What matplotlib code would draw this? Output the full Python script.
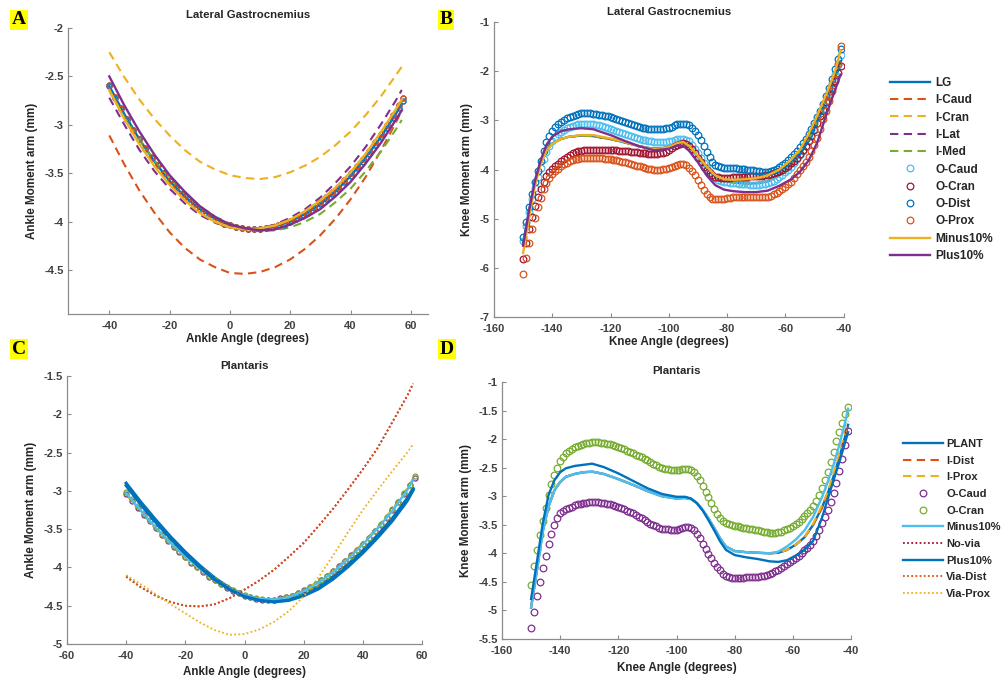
import numpy as np
import matplotlib
matplotlib.use('Agg')
import matplotlib.pyplot as plt
from matplotlib.ticker import FuncFormatter

plt.rcParams['font.family'] = ['Liberation Sans', 'DejaVu Sans']
plt.rcParams['font.weight'] = 'bold'
plt.rcParams['axes.unicode_minus'] = False

# MATLAB default colour order
C1, C2, C3, C4, C5, C6, C7 = '#0072BD', '#D95319', '#EDB120', '#7E2F8E', '#77AC30', '#4DBEEE', '#A2142F'

# ---------------- Panel A : Lateral Gastrocnemius, ankle ----------------
A_x = [-40, -35, -30, -25, -20, -15, -10, -5, 0, 5, 10, 15, 20, 25, 30, 35, 40, 45, 50, 55, 57]
A_LG    = [-2.60, -2.89, -3.15, -3.38, -3.58, -3.74, -3.87, -3.97, -4.04, -4.07, -4.08, -4.05, -4.00, -3.92, -3.82, -3.69, -3.53, -3.34, -3.13, -2.89, -2.78]
A_ICaud = [-3.11, -3.41, -3.68, -3.91, -4.11, -4.27, -4.39, -4.47, -4.53, -4.54, -4.52, -4.47, -4.39, -4.28, -4.14, -3.97, -3.77, -3.54, -3.27, -2.98, -2.85]
A_ICran = [-2.25, -2.51, -2.74, -2.94, -3.11, -3.26, -3.38, -3.46, -3.52, -3.55, -3.56, -3.54, -3.49, -3.42, -3.33, -3.21, -3.07, -2.90, -2.71, -2.49, -2.40]
A_ILat  = [-2.72, -3.00, -3.26, -3.48, -3.66, -3.81, -3.93, -4.01, -4.06, -4.08, -4.07, -4.03, -3.96, -3.87, -3.75, -3.60, -3.43, -3.23, -3.00, -2.75, -2.64]
A_IMed  = [-2.65, -2.92, -3.15, -3.37, -3.55, -3.71, -3.84, -3.95, -4.02, -4.07, -4.10, -4.09, -4.06, -4.00, -3.92, -3.80, -3.66, -3.48, -3.28, -3.05, -2.95]
A_Minus = [-2.64, -2.94, -3.20, -3.43, -3.62, -3.78, -3.91, -4.00, -4.06, -4.08, -4.07, -4.04, -3.98, -3.89, -3.78, -3.65, -3.49, -3.30, -3.08, -2.84, -2.74]
A_Plus  = [-2.50, -2.80, -3.07, -3.31, -3.52, -3.69, -3.84, -3.95, -4.03, -4.07, -4.09, -4.08, -4.03, -3.96, -3.87, -3.74, -3.59, -3.40, -3.19, -2.95, -2.85]
A_xo = np.append(np.arange(-40, 57, 2), 57.5)
A_O1 = [-2.60, -2.72, -2.84, -2.95, -3.05, -3.15, -3.25, -3.34, -3.42, -3.50,
        -3.58, -3.65, -3.71, -3.77, -3.82, -3.87, -3.92, -3.95, -3.99, -4.02,
        -4.04, -4.06, -4.07, -4.08, -4.08, -4.08, -4.07, -4.06, -4.05, -4.03,
        -4.00, -3.97, -3.94, -3.91, -3.86, -3.82, -3.77, -3.71, -3.66, -3.59,
        -3.53, -3.45, -3.38, -3.30, -3.21, -3.13, -3.03, -2.93, -2.83, -2.75]
A_O2 = [-2.59, -2.71, -2.83, -2.94, -3.05, -3.15, -3.24, -3.33, -3.42, -3.50,
        -3.57, -3.64, -3.71, -3.77, -3.82, -3.87, -3.91, -3.95, -3.99, -4.02,
        -4.04, -4.06, -4.07, -4.08, -4.08, -4.08, -4.07, -4.06, -4.04, -4.02,
        -3.99, -3.96, -3.93, -3.89, -3.85, -3.80, -3.75, -3.69, -3.64, -3.57,
        -3.50, -3.43, -3.35, -3.27, -3.18, -3.09, -3.00, -2.90, -2.80, -2.72]

# ---------------- Panel B : Lateral Gastrocnemius, knee ----------------
B_x = [-150, -148, -146, -144, -142, -140, -137, -134, -130, -126, -120, -115, -110, -105, -100, -97, -95,
       -93, -90, -87, -84, -81, -78, -74, -70, -66, -62, -58, -55, -52, -49, -46, -43, -41]
B_LG = [-5.50, -4.85, -4.25, -3.85, -3.60, -3.47, -3.38, -3.33, -3.31, -3.32,
        -3.38, -3.45, -3.53, -3.58, -3.55, -3.47, -3.45, -3.53, -3.74, -3.97,
        -4.15, -4.23, -4.26, -4.28, -4.28, -4.24, -4.12, -3.92, -3.70, -3.40,
        -3.02, -2.60, -2.15, -1.80]
B_Minus = [-5.70, -5.00, -4.35, -3.90, -3.62, -3.48, -3.38, -3.33, -3.30, -3.30,
           -3.37, -3.44, -3.53, -3.59, -3.55, -3.46, -3.44, -3.52, -3.72, -3.94,
           -4.12, -4.20, -4.21, -4.20, -4.18, -4.12, -4.00, -3.80, -3.60, -3.28,
           -2.90, -2.48, -2.02, -1.58]
B_Plus = [-5.55, -4.85, -4.25, -3.82, -3.50, -3.33, -3.22, -3.18, -3.16, -3.18,
          -3.30, -3.42, -3.53, -3.61, -3.58, -3.51, -3.52, -3.62, -3.85, -4.12,
          -4.32, -4.41, -4.44, -4.46, -4.46, -4.43, -4.33, -4.20, -4.05, -3.82,
          -3.45, -2.90, -2.40, -2.07]
B_ICaud = B_LG
B_ICran = B_LG
B_ILat = B_LG
B_IMed = B_LG
B_xo = np.arange(-150, -40)
B_ODist = [-5.37, -5.07, -4.77, -4.50, -4.25, -4.04, -3.82, -3.62, -3.45, -3.32,
           -3.22, -3.14, -3.08, -3.03, -2.99, -2.96, -2.93, -2.91, -2.89, -2.87,
           -2.86, -2.86, -2.86, -2.86, -2.87, -2.88, -2.89, -2.90, -2.91, -2.92,
           -2.93, -2.95, -2.97, -2.99, -3.01, -3.03, -3.05, -3.07, -3.09, -3.11,
           -3.13, -3.15, -3.16, -3.17, -3.18, -3.18, -3.18, -3.18, -3.17, -3.16,
           -3.15, -3.13, -3.10, -3.08, -3.07, -3.07, -3.08, -3.10, -3.15, -3.22,
           -3.30, -3.40, -3.52, -3.65, -3.75, -3.84, -3.90, -3.93, -3.95, -3.96,
           -3.96, -3.96, -3.97, -3.97, -3.98, -3.98, -3.99, -4.00, -4.01, -4.02,
           -4.03, -4.04, -4.05, -4.05, -4.05, -4.04, -4.02, -3.99, -3.95, -3.91,
           -3.86, -3.81, -3.75, -3.69, -3.62, -3.54, -3.46, -3.37, -3.27, -3.17,
           -3.06, -2.94, -2.81, -2.67, -2.51, -2.34, -2.15, -1.95, -1.75, -1.55]
B_OCaud = [-5.45, -5.15, -4.86, -4.60, -4.37, -4.16, -3.96, -3.79, -3.64, -3.52,
           -3.42, -3.34, -3.28, -3.23, -3.19, -3.16, -3.13, -3.11, -3.09, -3.08,
           -3.07, -3.07, -3.07, -3.07, -3.08, -3.09, -3.10, -3.12, -3.13, -3.15,
           -3.17, -3.19, -3.21, -3.23, -3.25, -3.27, -3.29, -3.31, -3.33, -3.35,
           -3.37, -3.39, -3.41, -3.42, -3.43, -3.44, -3.45, -3.45, -3.45, -3.44,
           -3.43, -3.42, -3.40, -3.38, -3.37, -3.37, -3.39, -3.43, -3.50, -3.58,
           -3.67, -3.77, -3.87, -3.97, -4.05, -4.12, -4.17, -4.21, -4.23, -4.25,
           -4.26, -4.27, -4.28, -4.28, -4.29, -4.29, -4.30, -4.30, -4.31, -4.31,
           -4.31, -4.31, -4.30, -4.29, -4.28, -4.26, -4.23, -4.20, -4.16, -4.11,
           -4.06, -4.00, -3.94, -3.87, -3.79, -3.71, -3.62, -3.52, -3.41, -3.30,
           -3.18, -3.05, -2.91, -2.76, -2.60, -2.43, -2.25, -2.06, -1.87, -1.68]
B_OCran = [-5.82, -5.50, -5.21, -4.96, -4.75, -4.56, -4.39, -4.25, -4.14, -4.06,
           -3.99, -3.93, -3.88, -3.83, -3.78, -3.74, -3.70, -3.67, -3.65, -3.63,
           -3.62, -3.61, -3.60, -3.60, -3.60, -3.60, -3.60, -3.60, -3.60, -3.60,
           -3.60, -3.61, -3.61, -3.62, -3.62, -3.63, -3.63, -3.64, -3.65, -3.65,
           -3.66, -3.67, -3.67, -3.68, -3.68, -3.68, -3.68, -3.67, -3.66, -3.64,
           -3.61, -3.57, -3.53, -3.50, -3.48, -3.47, -3.49, -3.53, -3.59, -3.67,
           -3.76, -3.85, -3.94, -4.02, -4.08, -4.12, -4.15, -4.16, -4.17, -4.17,
           -4.17, -4.17, -4.16, -4.16, -4.16, -4.15, -4.15, -4.15, -4.14, -4.14,
           -4.14, -4.13, -4.13, -4.12, -4.11, -4.10, -4.08, -4.06, -4.03, -4.00,
           -3.96, -3.92, -3.87, -3.82, -3.76, -3.69, -3.61, -3.52, -3.42, -3.31,
           -3.19, -3.06, -2.92, -2.78, -2.63, -2.48, -2.34, -2.19, -2.04, -1.90]
B_OProx = [-6.12, -5.80, -5.50, -5.22, -4.98, -4.76, -4.57, -4.40, -4.27, -4.17,
           -4.09, -4.03, -3.98, -3.93, -3.89, -3.86, -3.83, -3.81, -3.79, -3.78,
           -3.77, -3.76, -3.76, -3.76, -3.76, -3.76, -3.77, -3.77, -3.78, -3.78,
           -3.79, -3.80, -3.81, -3.82, -3.84, -3.85, -3.87, -3.88, -3.90, -3.92,
           -3.93, -3.95, -3.97, -3.98, -3.99, -4.00, -4.00, -4.00, -3.99, -3.98,
           -3.96, -3.94, -3.92, -3.90, -3.89, -3.89, -3.91, -3.96, -4.03, -4.12,
           -4.22, -4.32, -4.42, -4.50, -4.56, -4.60, -4.61, -4.61, -4.60, -4.59,
           -4.58, -4.57, -4.56, -4.56, -4.55, -4.55, -4.55, -4.55, -4.55, -4.55,
           -4.55, -4.56, -4.56, -4.56, -4.55, -4.53, -4.50, -4.47, -4.43, -4.39,
           -4.35, -4.30, -4.25, -4.18, -4.10, -4.02, -3.93, -3.84, -3.74, -3.62,
           -3.50, -3.35, -3.17, -2.98, -2.80, -2.60, -2.40, -2.15, -1.85, -1.48]

# ---------------- Panel C : Plantaris, ankle ----------------
C_x = [-40, -35, -30, -25, -20, -15, -10, -5, 0, 5, 10, 15, 20, 25, 30, 35, 40, 45, 50, 55, 57]
C_PLANT = [-2.90, -3.15, -3.38, -3.60, -3.80, -3.98, -4.14, -4.27, -4.37, -4.42, -4.44, -4.41, -4.35, -4.25, -4.12, -3.96, -3.78, -3.58, -3.36, -3.10, -2.97]
C_Plus  = [-2.93, -3.18, -3.41, -3.62, -3.82, -4.00, -4.16, -4.29, -4.38, -4.43, -4.45, -4.43, -4.37, -4.28, -4.15, -3.99, -3.81, -3.61, -3.39, -3.13, -2.99]
C_IDist = [-3.04, -3.27, -3.49, -3.69, -3.87, -4.03, -4.17, -4.29, -4.37, -4.42, -4.42, -4.38, -4.30, -4.19, -4.05, -3.88, -3.69, -3.48, -3.25, -2.98, -2.85]
C_IProx = [-3.05, -3.28, -3.50, -3.70, -3.88, -4.04, -4.18, -4.29, -4.37, -4.42, -4.42, -4.38, -4.30, -4.19, -4.04, -3.87, -3.68, -3.47, -3.24, -2.97, -2.84]
C_Minus = [-3.03, -3.26, -3.48, -3.68, -3.86, -4.02, -4.16, -4.28, -4.36, -4.41, -4.42, -4.39, -4.31, -4.20, -4.06, -3.89, -3.70, -3.49, -3.26, -2.99, -2.86]
C_NoVia = [-4.12, -4.26, -4.37, -4.45, -4.50, -4.51, -4.48, -4.40, -4.29, -4.17, -4.03, -3.86, -3.68, -3.46, -3.23, -2.98, -2.72, -2.44, -2.10, -1.76, -1.60]
C_ViaDist = C_NoVia
C_ViaProx = [-4.10, -4.22, -4.35, -4.48, -4.60, -4.72, -4.82, -4.88, -4.87, -4.81, -4.71, -4.57, -4.38, -4.13, -3.84, -3.54, -3.25, -2.99, -2.74, -2.50, -2.39]
C_xo = np.append(np.arange(-40, 57, 2), 57.5)
C_OCaud = [-3.04, -3.13, -3.22, -3.31, -3.40, -3.49, -3.57, -3.65, -3.73, -3.80,
           -3.87, -3.94, -4.00, -4.06, -4.12, -4.17, -4.22, -4.27, -4.31, -4.34,
           -4.37, -4.39, -4.41, -4.42, -4.42, -4.42, -4.40, -4.39, -4.37, -4.34,
           -4.30, -4.26, -4.21, -4.16, -4.11, -4.05, -3.98, -3.91, -3.84, -3.77,
           -3.69, -3.61, -3.52, -3.44, -3.35, -3.25, -3.15, -3.04, -2.93, -2.83]
C_OCran = [-3.02, -3.11, -3.20, -3.29, -3.38, -3.47, -3.56, -3.64, -3.72, -3.79,
           -3.86, -3.93, -3.99, -4.05, -4.11, -4.16, -4.21, -4.26, -4.30, -4.33,
           -4.36, -4.38, -4.40, -4.41, -4.42, -4.42, -4.41, -4.39, -4.37, -4.34,
           -4.31, -4.26, -4.22, -4.17, -4.11, -4.05, -3.99, -3.92, -3.85, -3.77,
           -3.69, -3.61, -3.52, -3.43, -3.34, -3.24, -3.14, -3.03, -2.92, -2.81]

# ---------------- Panel D : Plantaris, knee ----------------
D_x = [-150, -148, -146, -144, -142, -140, -138, -135, -132, -129,
       -125, -120, -115, -110, -105, -100, -97, -95, -93, -91,
       -89, -87, -85, -83, -80, -76, -72, -68, -65, -62,
       -59, -56, -53, -50, -48, -46, -44, -42, -41]
D_PLANT = [-4.95, -4.30, -3.62, -3.18, -2.90, -2.75, -2.66, -2.61, -2.58, -2.57,
           -2.61, -2.70, -2.80, -2.91, -3.00, -3.04, -3.03, -3.05, -3.12, -3.24,
           -3.39, -3.56, -3.74, -3.88, -3.96, -3.98, -3.99, -4.00, -3.99, -3.94,
           -3.85, -3.72, -3.50, -3.20, -2.95, -2.65, -2.32, -1.95, -1.75]
D_IDist = D_PLANT
D_IProx = [-4.95, -4.30, -3.62, -3.18, -2.90, -2.75, -2.66, -2.61, -2.58, -2.57,
           -2.61, -2.70, -2.80, -2.91, -3.00, -3.04, -3.03, -3.05, -3.12, -3.24,
           -3.39, -3.56, -3.74, -3.88, -3.96, -3.98, -3.99, -4.00, -3.99, -3.94,
           -3.85, -3.72, -3.48, -3.16, -2.92, -2.60, -2.25, -1.88, -1.68]
D_Minus = [-4.95, -4.30, -3.62, -3.18, -2.90, -2.75, -2.66, -2.61, -2.58, -2.57,
           -2.61, -2.70, -2.80, -2.91, -3.00, -3.04, -3.03, -3.05, -3.12, -3.24,
           -3.39, -3.56, -3.74, -3.88, -3.96, -3.98, -3.99, -4.00, -3.97, -3.88,
           -3.76, -3.60, -3.36, -3.02, -2.75, -2.45, -2.10, -1.70, -1.47]
D_Plus = [-4.80, -4.15, -3.48, -2.98, -2.72, -2.58, -2.51, -2.47, -2.45, -2.43,
          -2.49, -2.60, -2.73, -2.86, -2.96, -3.01, -3.01, -3.04, -3.12, -3.25,
          -3.42, -3.60, -3.79, -3.94, -4.03, -4.07, -4.10, -4.14, -4.15, -4.12,
          -4.04, -3.94, -3.78, -3.38, -3.05, -2.72, -2.40, -2.05, -1.88]
D_NoVia, D_ViaDist, D_ViaProx = [], [], []
D_xo = np.arange(-150, -40)
D_OCran = [-4.55, -4.23, -3.95, -3.68, -3.44, -3.21, -2.98, -2.79, -2.63, -2.50,
           -2.39, -2.31, -2.25, -2.21, -2.17, -2.14, -2.12, -2.10, -2.08, -2.07,
           -2.06, -2.05, -2.05, -2.05, -2.06, -2.07, -2.08, -2.09, -2.11, -2.12,
           -2.14, -2.16, -2.18, -2.20, -2.22, -2.24, -2.27, -2.29, -2.32, -2.35,
           -2.37, -2.40, -2.43, -2.46, -2.48, -2.50, -2.52, -2.53, -2.54, -2.54,
           -2.54, -2.54, -2.53, -2.52, -2.52, -2.54, -2.58, -2.64, -2.72, -2.82,
           -2.92, -3.02, -3.12, -3.22, -3.31, -3.38, -3.43, -3.47, -3.49, -3.51,
           -3.52, -3.53, -3.54, -3.55, -3.56, -3.57, -3.58, -3.59, -3.60, -3.61,
           -3.62, -3.63, -3.64, -3.64, -3.64, -3.63, -3.62, -3.60, -3.58, -3.55,
           -3.52, -3.49, -3.45, -3.40, -3.35, -3.30, -3.24, -3.17, -3.08, -2.97,
           -2.85, -2.72, -2.57, -2.40, -2.22, -2.04, -1.87, -1.71, -1.56, -1.43]
D_OCaud = [-5.31, -5.02, -4.75, -4.50, -4.26, -4.04, -3.84, -3.66, -3.50, -3.39,
           -3.30, -3.25, -3.22, -3.20, -3.18, -3.16, -3.14, -3.13, -3.12, -3.11,
           -3.10, -3.10, -3.10, -3.10, -3.11, -3.12, -3.13, -3.14, -3.16, -3.17,
           -3.19, -3.21, -3.23, -3.25, -3.28, -3.30, -3.33, -3.36, -3.39, -3.42,
           -3.45, -3.48, -3.50, -3.53, -3.55, -3.57, -3.58, -3.58, -3.59, -3.59,
           -3.59, -3.58, -3.56, -3.54, -3.54, -3.56, -3.60, -3.66, -3.74, -3.83,
           -3.92, -4.01, -4.09, -4.17, -4.24, -4.30, -4.36, -4.40, -4.42, -4.43,
           -4.43, -4.43, -4.43, -4.43, -4.42, -4.42, -4.42, -4.41, -4.41, -4.40,
           -4.39, -4.38, -4.36, -4.34, -4.31, -4.29, -4.26, -4.23, -4.19, -4.16,
           -4.12, -4.08, -4.04, -4.00, -3.95, -3.91, -3.85, -3.78, -3.69, -3.59,
           -3.47, -3.36, -3.24, -3.10, -2.94, -2.76, -2.56, -2.34, -2.10, -1.85]

# ---------------- Figure ----------------
W, H = 1006, 681
fig = plt.figure(figsize=(W / 100, H / 100), dpi=100)

def box(l, t, r, b):
    return [l / W, 1 - b / H, (r - l) / W, (b - t) / H]

axA = fig.add_axes(box(68, 28, 428, 313.6))
axB = fig.add_axes(box(494, 22, 843.5, 317))
axC = fig.add_axes(box(67, 376, 422, 644))
axD = fig.add_axes(box(502, 382, 851, 639))

DASH = (0, (4, 2.6))
DOT = (0, (1, 1.3))
LW = 1.7
MS = 4.8

def circ(ax, x, y, c, lab, ms=MS):
    ax.plot(x, y, linestyle='none', marker='o', ms=ms, mfc='none', mec=c, mew=0.9, label=lab)

# Panel A
axA.plot(A_x, A_LG, color=C1, lw=LW, label='LG')
axA.plot(A_x, A_ICaud, color=C2, lw=1.5, ls=DASH, label='I-Caud')
axA.plot(A_x, A_ICran, color=C3, lw=1.5, ls=DASH, label='I-Cran')
axA.plot(A_x, A_ILat, color=C4, lw=1.5, ls=DASH, label='I-Lat')
axA.plot(A_x, A_IMed, color=C5, lw=1.5, ls=DASH, label='I-Med')
circ(axA, A_xo, A_O1, C6, 'O-Caud', 3.6)
circ(axA, A_xo, A_O2, C7, 'O-Cran', 3.6)
circ(axA, A_xo, A_O1, C1, 'O-Dist', 3.6)
circ(axA, A_xo, A_O2, C2, 'O-Prox', 3.6)
axA.plot(A_x, A_Minus, color=C3, lw=LW, label='Minus10%')
axA.plot(A_x, A_Plus, color=C4, lw=LW, label='Plus10%')

# Panel B
axB.plot(B_x, B_LG, color=C1, lw=LW, label='LG')
axB.plot(B_x, B_ICaud, color=C2, lw=1.5, ls=DASH, label='I-Caud')
axB.plot(B_x, B_ICran, color=C3, lw=1.5, ls=DASH, label='I-Cran')
axB.plot(B_x, B_ILat, color=C4, lw=1.5, ls=DASH, label='I-Lat')
axB.plot(B_x, B_IMed, color=C5, lw=1.5, ls=DASH, label='I-Med')
circ(axB, B_xo, B_OCaud, C6, 'O-Caud')
circ(axB, B_xo, B_OCran, C7, 'O-Cran')
circ(axB, B_xo, B_ODist, C1, 'O-Dist')
circ(axB, B_xo, B_OProx, C2, 'O-Prox')
axB.plot(B_x, B_Minus, color=C3, lw=LW, label='Minus10%')
axB.plot(B_x, B_Plus, color=C4, lw=LW, label='Plus10%')

# Panel C
axC.plot(C_x, C_PLANT, color=C1, lw=2.3, label='PLANT')
axC.plot(C_x, C_IDist, color=C2, lw=1.5, ls=DASH, label='I-Dist')
axC.plot(C_x, C_IProx, color=C3, lw=1.5, ls=DASH, label='I-Prox')
circ(axC, C_xo, C_OCaud, C4, 'O-Caud', 3.6)
circ(axC, C_xo, C_OCran, C5, 'O-Cran', 3.6)
axC.plot(C_x, C_Minus, color=C6, lw=LW, label='Minus10%')
axC.plot(C_x, C_NoVia, color=C7, lw=1.3, ls=DOT, label='No-via')
axC.plot(C_x, C_Plus, color=C1, lw=2.3, label='Plus10%')
axC.plot(C_x, C_ViaDist, color=C2, lw=1.3, ls=DOT, label='Via-Dist')
axC.plot(C_x, C_ViaProx, color=C3, lw=1.3, ls=DOT, label='Via-Prox')

# Panel D
axD.plot(D_x, D_PLANT, color=C1, lw=LW, label='PLANT')
axD.plot(D_x, D_IDist, color=C2, lw=1.5, ls=DASH, label='I-Dist')
axD.plot(D_x, D_IProx, color=C3, lw=1.5, ls=DASH, label='I-Prox')
circ(axD, D_xo, D_OCaud, C4, 'O-Caud')
circ(axD, D_xo, D_OCran, C5, 'O-Cran')
axD.plot(D_x, D_Minus, color=C6, lw=LW, label='Minus10%')
axD.plot(D_NoVia, D_NoVia, color=C7, lw=1.3, ls=DOT, label='No-via')
axD.plot(D_x, D_Plus, color=C1, lw=LW, label='Plus10%')
axD.plot(D_ViaDist, D_ViaDist, color=C2, lw=1.3, ls=DOT, label='Via-Dist')
axD.plot(D_ViaProx, D_ViaProx, color=C3, lw=1.3, ls=DOT, label='Via-Prox')

fmt = FuncFormatter(lambda v, p: f'{v:g}')
TXT = '#262626'

def style(ax, xlim, ylim, xt, yt, title, xl, yl, tpad, xlpad):
    ax.set_xlim(*xlim)
    ax.set_ylim(*ylim)
    ax.set_xticks(xt)
    ax.set_yticks(yt)
    ax.xaxis.set_major_formatter(fmt)
    ax.yaxis.set_major_formatter(fmt)
    for s in ('top', 'right'):
        ax.spines[s].set_visible(False)
    for s in ('left', 'bottom'):
        ax.spines[s].set_color('#8c8c8c')
        ax.spines[s].set_linewidth(0.9)
    ax.tick_params(direction='in', length=3, width=0.8, colors='#8c8c8c',
                   labelcolor='#404040', labelsize=8)
    ax.tick_params(axis='x', pad=5)
    ax.tick_params(axis='y', pad=3)
    ax.set_title(title, fontsize=8.2, fontweight='bold', color=TXT, pad=tpad)
    ax.set_xlabel(xl, fontsize=8.4, fontweight='bold', color=TXT, labelpad=xlpad)
    ax.set_ylabel(yl, fontsize=8.4, fontweight='bold', color=TXT, labelpad=5)
    ax.patch.set_alpha(0)

style(axA, (-53.7, 65.7), (-4.95, -2), [-40, -20, 0, 20, 40, 60], np.arange(-4.5, -1.9, 0.5),
      'Lateral Gastrocnemius', 'Ankle Angle (degrees)', 'Ankle Moment arm (mm)', 7, 1.5)
style(axB, (-160, -40), (-7, -1), np.arange(-160, -39, 20), np.arange(-7, -0.9, 1),
      'Lateral Gastrocnemius', 'Knee Angle (degrees)', 'Knee Moment arm (mm)', 5, 1.5)
style(axC, (-60, 60), (-5, -1.5), np.arange(-60, 61, 20), np.arange(-5, -1.4, 0.5),
      'Plantaris', 'Ankle Angle (degrees)', 'Ankle Moment arm (mm)', 5, 4)
style(axD, (-160, -40), (-5.5, -1), np.arange(-160, -39, 20), np.arange(-5.5, -0.9, 0.5),
      'Plantaris', 'Knee Angle (degrees)', 'Knee Moment arm (mm)', 6, 4)

# legends
hB, lB = axB.get_legend_handles_labels()
fig.legend(hB, lB, loc='upper left', bbox_to_anchor=(890 / W, 1 - 77 / H), frameon=False,
           fontsize=8.5, handlelength=3.4, handletextpad=0.45, labelspacing=0.45,
           borderpad=0, borderaxespad=0, numpoints=1, labelcolor=TXT)
hD, lD = axD.get_legend_handles_labels()
fig.legend(hD, lD, loc='upper left', bbox_to_anchor=(903 / W, 1 - 439 / H), frameon=False,
           fontsize=8, handlelength=3.6, handletextpad=0.3, labelspacing=0.6,
           borderpad=0, borderaxespad=0, numpoints=1, labelcolor=TXT)

# panel letters
for (px, py, letter) in [(19, 20, 'A'), (446, 20, 'B'), (19, 349, 'C'), (447, 349, 'D')]:
    fig.text(px / W, 1 - py / H, letter, family=['Liberation Serif', 'DejaVu Serif'],
             fontweight='bold', fontsize=14, color='black', ha='center', va='center',
             bbox=dict(facecolor='#FFFF00', edgecolor='none', pad=1.2))

fig.savefig('out.png', dpi=100)
